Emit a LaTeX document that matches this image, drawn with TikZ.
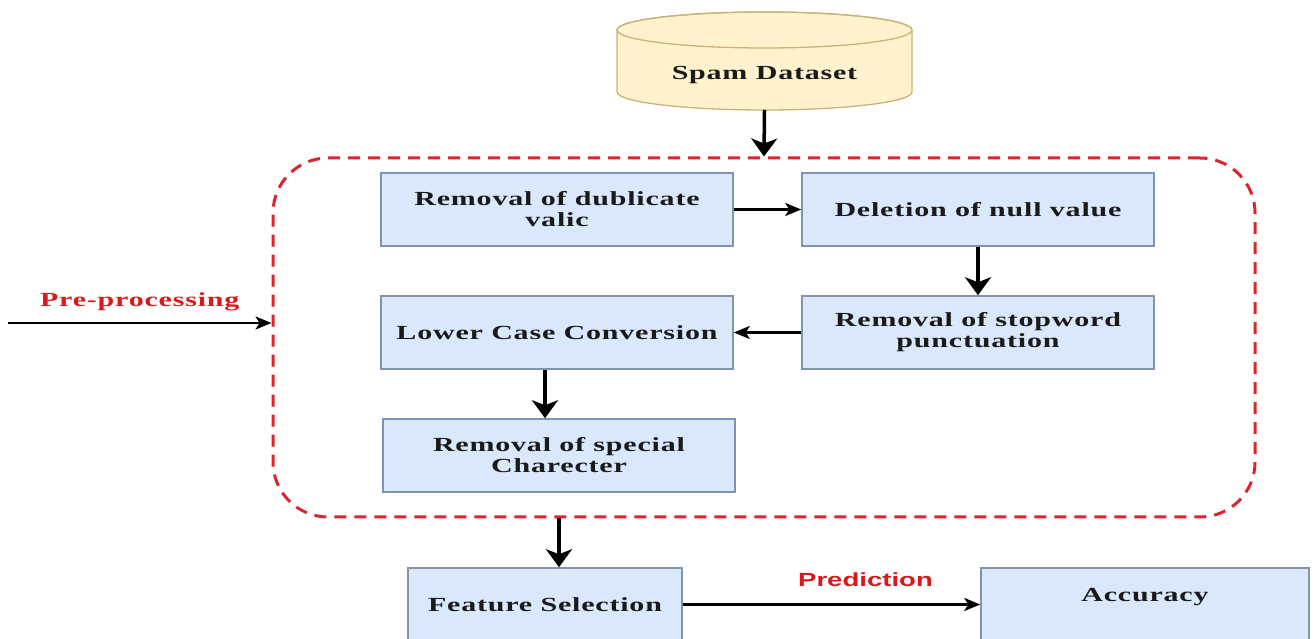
\documentclass[tikz,border=0pt]{standalone}
\usepackage{fontspec}
\setmainfont{Liberation Serif}[FakeStretch=1.5, LetterSpace=4]
\newfontfamily\predfont{Liberation Sans}[FakeStretch=1.45]
\usetikzlibrary{arrows.meta,calc,positioning}

\definecolor{boxfill}{HTML}{DAE8FC}
\definecolor{boxline}{HTML}{7F93B5}
\definecolor{dbfill}{HTML}{FFF2CC}
\definecolor{dbline}{HTML}{C9B37A}
\definecolor{framered}{HTML}{D8262F}
\definecolor{labelred}{HTML}{D7191C}
\definecolor{inktext}{HTML}{1A1A1A}

\newcommand{\boxtext}{\fontsize{20}{21}\selectfont\bfseries}

\begin{document}
\begin{tikzpicture}[x=1pt, y=1pt, >=Stealth,
    procbox/.style={draw=boxline, fill=boxfill, line width=1.5pt, minimum height=73pt,
      align=center, text=inktext, font=\boxtext},
    thickarr/.style={-{Stealth[length=18pt,width=26pt,inset=5pt]}, line width=3.5pt},
    thinarr/.style={-{Stealth[length=16pt,width=13pt,inset=4pt]}, line width=2.5pt}]
    \useasboundingbox (0,0) rectangle (1314,639);

    % data store
    \filldraw[fill=dbfill, draw=dbline, line width=1.3pt] (617,609) -- (617,547)
      arc[start angle=180, end angle=360, x radius=147.5, y radius=18] -- (912,609)
      arc[start angle=0, end angle=180, x radius=147.5, y radius=18] -- cycle;
    \draw[dbline, line width=1.3pt] (764.5,609) ellipse [x radius=147.5, y radius=18];
    \node[text=inktext, font=\boxtext] (data) at (764.5,564) {Spam Dataset};
    \coordinate (databot) at (764.5,529);

    % pre-processing frame
    \node[draw=framered, line width=3pt, dash pattern=on 12pt off 8pt, rounded corners=55pt,
      minimum width=982pt, minimum height=359pt] (pre) at (764,301.5) {};

    \node[procbox, minimum width=352pt] (dup) at (557,429.5) {Removal of dublicate\\valic};
    \node[procbox, minimum width=352pt] (null) at (978,429.5) {Deletion of null value};
    \node[procbox, minimum width=352pt] (stop) at (978,306.5) {Removal of stopword\\punctuation};
    \node[procbox, minimum width=352pt] (lower) at (557,306.5) {Lower Case Conversion};
    \node[procbox, minimum width=352pt] (special) at (559,183.5) {Removal of special\\Charecter};

    \node[procbox, minimum width=274pt] (feat) at (545,34.5) {Feature Selection};
    \node[procbox, minimum width=328pt, text depth=20pt] (acc) at (1145,34.5) {Accuracy};

    \coordinate (ppstart) at (8,316);

    \draw[thickarr] (databot) -- (pre.north);
    \draw[thinarr] (dup) -- (null);
    \draw[thickarr] (null) -- (stop);
    \draw[thinarr] (stop) -- (lower);
    \draw[thickarr] ([xshift=-12pt]lower.south) -- ([xshift=-14pt]special.north);
    \draw[thickarr] (special.south |- pre.south) -- (special.south |- feat.north);

    \draw[thinarr] (ppstart) -- (ppstart -| pre.west)
      node[midway, yshift=21pt, text=labelred, font=\boxtext] {Pre-processing};
    \draw[thinarr] (feat) -- (acc)
      node[midway, yshift=25pt, xshift=34pt, text=labelred, font=\predfont\fontsize{19}{22}\selectfont\bfseries] {Prediction};
\end{tikzpicture}
\end{document}
